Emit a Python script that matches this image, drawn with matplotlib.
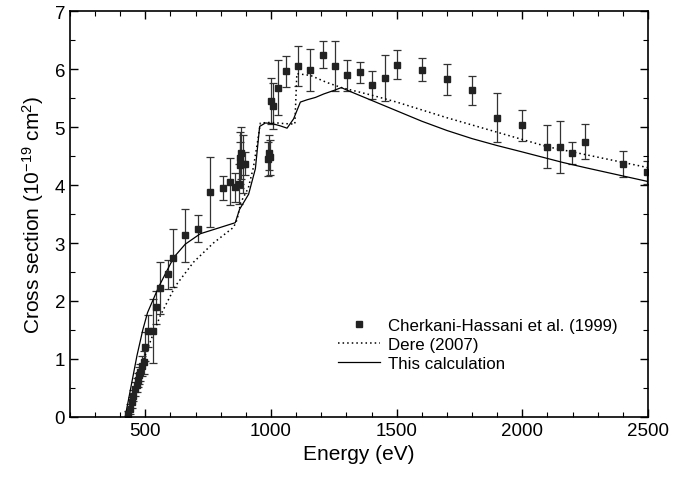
import numpy as np
import matplotlib
matplotlib.use('Agg')
import matplotlib.pyplot as plt
from matplotlib.ticker import MultipleLocator
from matplotlib.lines import Line2D

plt.rcParams['font.family'] = ['Liberation Sans', 'DejaVu Sans']
plt.rcParams['mathtext.fontset'] = 'custom'
plt.rcParams['mathtext.rm'] = 'Liberation Sans'
plt.rcParams['mathtext.it'] = 'Liberation Sans'
plt.rcParams['mathtext.default'] = 'regular'

# Cherkani-Hassani et al. (1999) measurements
exp_E = [433, 440, 447, 453, 460, 466, 471, 476, 480, 487, 493, 500,
         509, 529, 544, 560, 589, 610, 659, 708, 758, 809, 838, 858,
         871, 875, 877, 880, 888, 898, 990, 993, 997, 1001, 1008, 1028,
         1058, 1106, 1157, 1206, 1254, 1304, 1353, 1403, 1452, 1503,
         1602, 1701, 1801, 1900, 2000, 2099, 2149, 2199, 2249, 2399, 2495]
exp_y = [0.05, 0.14, 0.25, 0.37, 0.48, 0.55, 0.63, 0.72, 0.77, 0.88, 0.94, 1.21,
         1.48, 1.48, 1.89, 2.22, 2.46, 2.74, 3.13, 3.25, 3.88, 3.95, 4.06, 3.96,
         4.02, 4.35, 4.46, 4.55, 4.36, 4.37, 4.45, 4.56, 4.48, 5.45, 5.36, 5.68,
         5.96, 6.05, 5.98, 6.25, 6.05, 5.89, 5.94, 5.72, 5.84, 6.07,
         5.99, 5.82, 5.63, 5.16, 5.03, 4.66, 4.66, 4.55, 4.75, 4.36, 4.22]
exp_err = [0.06, 0.08, 0.10, 0.10, 0.12, 0.12, 0.12, 0.15, 0.15, 0.17, 0.20, 0.25,
           0.27, 0.55, 0.28, 0.45, 0.25, 0.50, 0.45, 0.23, 0.61, 0.20, 0.40, 0.25,
           0.35, 0.40, 0.45, 0.45, 0.50, 0.20, 0.30, 0.30, 0.30, 0.40, 0.40, 0.47,
           0.27, 0.35, 0.36, 0.24, 0.43, 0.27, 0.18, 0.24, 0.40, 0.25,
           0.20, 0.26, 0.25, 0.42, 0.27, 0.37, 0.45, 0.19, 0.30, 0.22, 0.20]

# Dere (2007)
dere_E = [430, 460, 490, 520, 560, 620, 692, 771, 851, 865, 880, 910, 930, 945,
          958, 1000, 1050, 1095, 1103, 1157, 1221, 1280, 1400, 1500, 1700, 1900,
          2100, 2300, 2500]
dere_y = [0.0, 0.5, 0.95, 1.3, 1.75, 2.26, 2.67, 3.0, 3.27, 3.4, 3.7, 3.95, 4.3, 4.7,
          5.07, 5.08, 5.06, 5.05, 5.92, 5.89, 5.77, 5.68, 5.55, 5.43, 5.16, 4.91,
          4.66, 4.48, 4.30]

# This calculation
calc_E = [420, 440, 467, 490, 509, 553, 613, 659, 719, 785, 858, 875, 911, 938,
          955, 978, 1004, 1037, 1064, 1090, 1117, 1144, 1177, 1210, 1250, 1280,
          1300, 1400, 1500, 1600, 1700, 1800, 1900, 2000, 2160, 2250, 2500]
calc_y = [0.0, 0.45, 1.06, 1.5, 1.8, 2.24, 2.75, 2.98, 3.16, 3.25, 3.35, 3.58, 3.84, 4.28,
          5.01, 5.07, 5.06, 5.02, 4.98, 5.14, 5.43, 5.47, 5.51, 5.57, 5.63, 5.68,
          5.64, 5.46, 5.28, 5.10, 4.94, 4.80, 4.68, 4.57, 4.39, 4.30, 4.06]

fig = plt.figure(figsize=(6.85, 4.81), dpi=100)
ax = fig.add_axes([0.102, 0.131, 0.844, 0.844])

ax.errorbar(exp_E, exp_y, yerr=exp_err, fmt='s', color='#222222', ecolor='#333333',
            markersize=4.5, elinewidth=0.9, capsize=3, capthick=0.9)
l_dere, = ax.plot(dere_E, dere_y, color='black', linestyle=(0, (1, 2.0)), linewidth=1.1)
l_calc, = ax.plot(calc_E, calc_y, color='black', linewidth=0.9)

ax.set_xlim(200, 2500)
ax.set_ylim(0, 7)
ax.xaxis.set_major_locator(MultipleLocator(500))
ax.xaxis.set_minor_locator(MultipleLocator(100))
ax.yaxis.set_major_locator(MultipleLocator(1))
ax.yaxis.set_minor_locator(MultipleLocator(0.5))
ax.tick_params(which='both', direction='in', top=True, right=True, labelsize=13.5)
ax.tick_params(which='major', length=6, width=1)
ax.tick_params(which='minor', length=3.5, width=0.8)
for s in ax.spines.values():
    s.set_linewidth(1.2)

ax.set_xlabel('Energy (eV)', fontsize=15, labelpad=4)
ax.set_ylabel('Cross section (10$^{-19}$ cm$^{2}$)', fontsize=15, labelpad=6)

h_exp = Line2D([], [], marker='s', linestyle='none', color='#222222', markersize=4.5)
ax.legend([h_exp, l_dere, l_calc],
          ['Cherkani-Hassani et al. (1999)', 'Dere (2007)', 'This calculation'],
          loc='lower right', bbox_to_anchor=(0.968, 0.085),
          frameon=False, fontsize=12.2, handlelength=2.5, handletextpad=0.45,
          labelspacing=0.22, borderpad=0.2)

fig.savefig('out.png', dpi=100)
